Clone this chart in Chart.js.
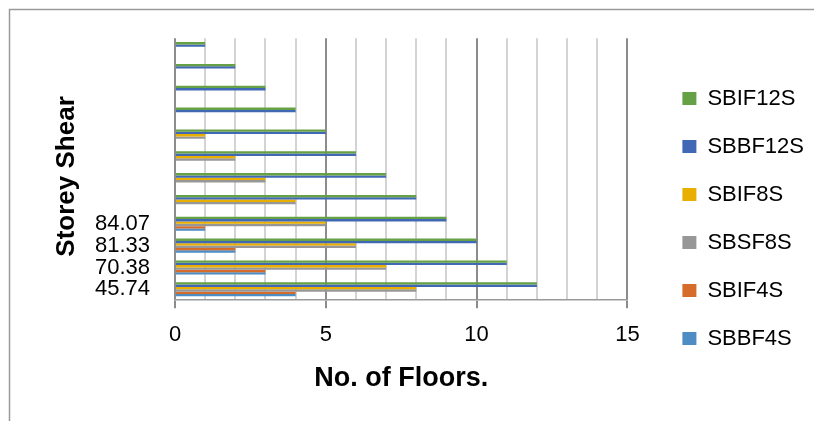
<!DOCTYPE html>
<html>
<head>
<meta charset="utf-8">
<script src="https://cdn.jsdelivr.net/npm/chart.js@4.4.1/dist/chart.umd.min.js"></script>
<style>
  html, body { margin: 0; padding: 0; background: #fff; }
  canvas { display: block; }
</style>
</head>
<body>
<canvas id="chart" width="814" height="421"></canvas>
<script>
// Storey shear categories, listed from the bottom row upwards
const storeyShear = ['45.74', '70.38', '81.33', '84.07', '', '', '', '', '', '', '', ''];

// Number of floors per building model
const sbbf4s  = [4, 3, 2, 1, null, null, null, null, null, null, null, null];
const sbif4s  = [4, 3, 2, 1, null, null, null, null, null, null, null, null];
const sbsf8s  = [8, 7, 6, 5, 4, 3, 2, 1, null, null, null, null];
const sbif8s  = [8, 7, 6, 5, 4, 3, 2, 1, null, null, null, null];
const sbbf12s = [12, 11, 10, 9, 8, 7, 6, 5, 4, 3, 2, 1];
const sbif12s = [12, 11, 10, 9, 8, 7, 6, 5, 4, 3, 2, 1];

const floorTicks = [0, 5, 10, 15];

const textFont = 'Liberation Sans';

// White page with a thin grey frame around the chart
const framePlugin = {
  id: 'frame',
  beforeDraw(chart) {
    const ctx = chart.ctx;
    ctx.save();
    ctx.fillStyle = '#ffffff';
    ctx.fillRect(0, 0, chart.width, chart.height);
    ctx.strokeStyle = '#9a9a9a';
    ctx.lineWidth = 1.5;
    ctx.strokeRect(9.5, 9.5, chart.width + 20, chart.height + 20);
    ctx.restore();
  }
};

const isMajor = v => floorTicks.includes(v);

const bar = (label, data, color) => ({
  label, data,
  backgroundColor: color,
  borderWidth: 0,
  barPercentage: 1,
  categoryPercentage: 0.646
});

new Chart(document.getElementById('chart'), {
  type: 'bar',
  data: {
    labels: storeyShear,
    datasets: [
      bar('SBIF12S', sbif12s, '#66a146'),
      bar('SBBF12S', sbbf12s, '#4068b5'),
      bar('SBIF8S',  sbif8s,  '#e8ae00'),
      bar('SBSF8S',  sbsf8s,  '#979797'),
      bar('SBIF4S',  sbif4s,  '#d66c2a'),
      bar('SBBF4S',  sbbf4s,  '#4e8cc4')
    ]
  },
  options: {
    indexAxis: 'y',
    responsive: false,
    devicePixelRatio: 1,
    animation: false,
    layout: { padding: { top: 38, bottom: 22, left: 0, right: 0 } },
    plugins: {
      tooltip: { enabled: false },
      legend: {
        position: 'right',
        align: 'center',
        maxWidth: 220,
        labels: {
          boxWidth: 14,
          boxHeight: 13,
          padding: 26,
          color: '#000',
          font: { family: textFont, size: 22 }
        }
      }
    },
    scales: {
      x: {
        type: 'linear',
        position: 'bottom',
        min: 0,
        max: 15,
        ticks: {
          stepSize: 1,
          autoSkip: false,
          maxRotation: 0,
          padding: 14,
          color: '#000',
          font: { family: textFont, size: 22 },
          callback: v => (isMajor(v) ? String(v) : '')
        },
        grid: {
          color: c => (isMajor(c.tick.value) ? '#8c8c8c' : '#d3d3d3'),
          lineWidth: 2,
          tickColor: c => (isMajor(c.tick.value) ? '#8c8c8c' : 'rgba(0,0,0,0)'),
          tickLength: 8
        },
        border: { display: true, color: '#9a9a9a', width: 1.5 },
        title: {
          display: true,
          text: 'No. of Floors.',
          color: '#000',
          font: { family: textFont, size: 27, weight: 'bold' },
          padding: { top: 0, bottom: 4 }
        }
      },
      y: {
        type: 'category',
        reverse: true,
        grid: { display: false, drawTicks: false },
        border: { display: false },
        ticks: {
          autoSkip: false,
          padding: 25,
          color: '#000',
          font: { family: textFont, size: 22 }
        },
        title: {
          display: true,
          text: 'Storey Shear  ',
          color: '#000',
          font: { family: textFont, size: 26, weight: 'bold' },
          padding: { top: 51, bottom: 0 }
        },
        afterFit(scale) { scale.width = 175; }
      },
      // empty spacer between the plot and the legend
      yGap: {
        type: 'linear',
        axis: 'y',
        position: 'right',
        grid: { display: false, drawTicks: false },
        border: { display: false },
        ticks: { display: false },
        afterFit(scale) { scale.width = 29; }
      }
    }
  },
  plugins: [framePlugin]
});
</script>
</body>
</html>
